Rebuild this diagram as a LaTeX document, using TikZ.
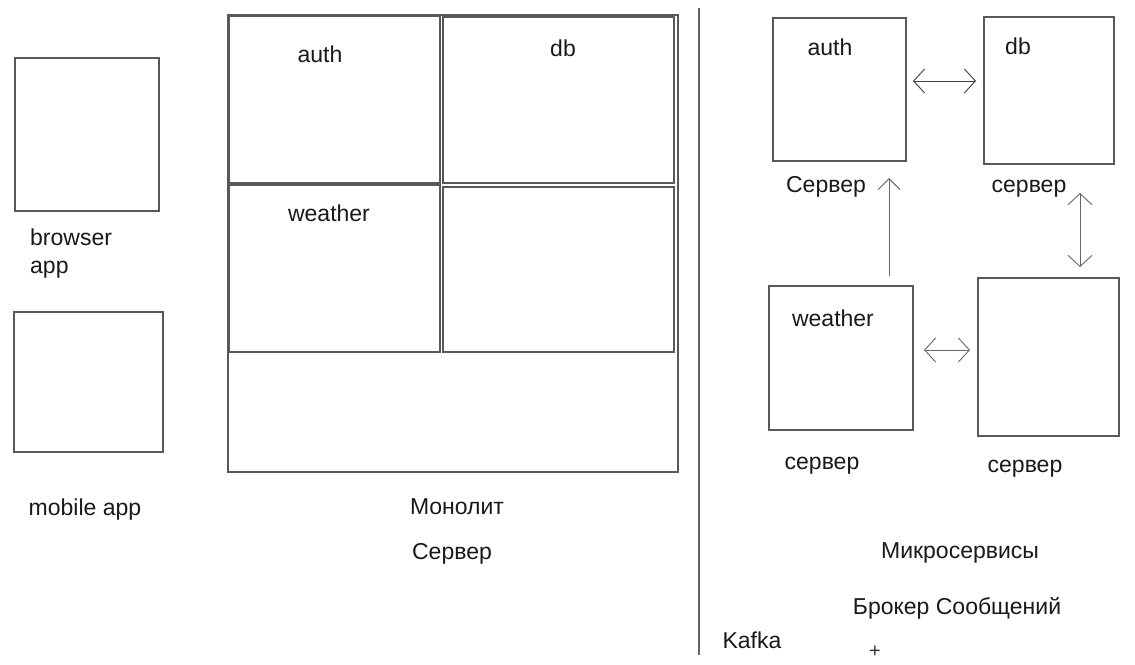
\documentclass[tikz,border=0pt]{standalone}
\usepackage{fontspec}
\setmainfont{Liberation Sans}
\usetikzlibrary{arrows.meta}
\begin{document}
\begin{tikzpicture}[x=1pt,y=-1pt,
  box/.style={draw=black!65,line width=1.1pt},
  lbl/.style={font=\fontsize{23}{27}\selectfont,text=black!90,inner sep=0pt},
  conn/.style={draw=black!60,line width=0.9pt,{Straight Barb[length=11pt,width=24pt]}-{Straight Barb[length=11pt,width=24pt]}},
  conn1/.style={draw=black!60,line width=0.9pt,-{Straight Barb[length=11pt,width=22pt]}}]
\useasboundingbox[fill=white] (0,0) rectangle (1135,664);
% left clients
\draw[box] (15,58) rectangle (159,211);
\node[lbl,anchor=base west] (browser) at (30,245) {browser};
\node[lbl,anchor=base west] (browser2) at (30,273) {app};
\draw[box] (14,312) rectangle (163,452);
\node[lbl] (mobile) at (85,510) {mobile app};
% monolith
\draw[box] (228,15) rectangle (678,472);
\draw[box] (229,16) rectangle (440,183);
\draw[box] (443,17) rectangle (674,183);
\draw[box] (229,185) rectangle (440,352);
\draw[box] (443,187) rectangle (674,352);
\node[lbl] (mauth) at (320,54) {auth};
\node[lbl] (mdb) at (563,48) {db};
\node[lbl] (mweather) at (329,213) {weather};
\node[lbl] (mono) at (457,507) {Монолит};
\node[lbl] (mserv) at (452,554) {Сервер};
% divider
\draw[draw=black!60,line width=1.1pt] (699,8) -- (699,655);
% microservices
\node[box,minimum width=133pt,minimum height=143pt,inner sep=0pt] (rauth) at (839.5,89.5) {};
\node[box,minimum width=130pt,minimum height=147pt,inner sep=0pt] (rdb) at (1049,90.5) {};
\node[box,minimum width=144pt,minimum height=144pt,inner sep=0pt] (rweather) at (841,358) {};
\node[box,minimum width=141pt,minimum height=158pt,inner sep=0pt] (rfour) at (1048.5,357) {};
\node[lbl] (tauth) at (830,47) {auth};
\node[lbl] (tdb) at (1018,46) {db};
\node[lbl] (tweather) at (833,318) {weather};
\node[lbl] (sauth) at (826,187) {Сервер};
\node[lbl] (sdb) at (1029,189) {сервер};
\node[lbl] (sweather) at (822,466) {сервер};
\node[lbl] (sfour) at (1025,469) {сервер};
\node[lbl] (micro) at (960,553) {Микросервисы};
\node[lbl] (broker) at (957,608) {Брокер Сообщений};
\node[lbl] (kafka) at (752,640) {Kafka};
\node[font=\fontsize{20}{22}\selectfont,text=black!80,inner sep=0pt] (plus) at (875,652) {+};
% connectors
\coordinate (a1) at (913,81);
\coordinate (a2) at (976,81);
\draw[conn,draw=black!75] (a1) -- (a2);
\coordinate (b1) at (1080,193);
\coordinate (b2) at (1080,267);
\draw[conn] (b1) -- (b2);
\coordinate (c1) at (889,276);
\coordinate (c2) at (889,178);
\draw[conn1] (c1) -- (c2);
\coordinate (d1) at (924,350);
\coordinate (d2) at (970,350);
\draw[conn] (d1) -- (d2);
\end{tikzpicture}
\end{document}
